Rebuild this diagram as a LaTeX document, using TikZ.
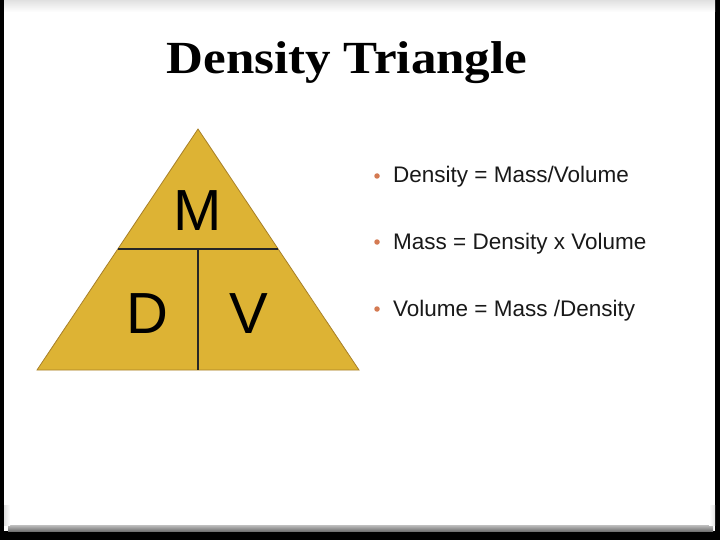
\documentclass[tikz,border=0pt]{standalone}
\usepackage{fontspec}
\setmainfont{Liberation Sans}
\newfontfamily\titlefont{Liberation Serif}
\usetikzlibrary{calc}
\definecolor{gold}{RGB}{221,179,52}
\definecolor{goldedge}{RGB}{168,128,40}
\definecolor{bulletc}{RGB}{212,122,82}
\definecolor{txt}{RGB}{25,25,25}
\tikzset{
  letter/.style={anchor=base, inner sep=0pt, font=\fontsize{58}{60}\selectfont, text=black},
  item/.style={anchor=base west, inner sep=0pt, font=\fontsize{22.5}{26}\selectfont, text=txt},
  dot/.style={circle, fill=bulletc, inner sep=0pt, minimum size=5.5pt},
  divider/.style={draw=black!85, line width=1.6pt}
}
\begin{document}
\begin{tikzpicture}[x=1pt,y=-1pt]
\useasboundingbox (0,0) rectangle (720,540);
% slide frame
\fill[black] (0,0) rectangle (720,540);
\fill[white] (4,0) rectangle (715,531);
\shade[top color=black!12, bottom color=white] (4,0) rectangle (715,12);
\shade[top color=black!25, bottom color=black!55] (8,525) rectangle (713,531);
\shade[left color=black!12, right color=white] (4,505) rectangle (10,525);
\shade[left color=white, right color=black!12] (709,505) rectangle (715,525);
% title
\node[anchor=base, inner sep=0pt, font=\titlefont\bfseries\fontsize{46}{50}\selectfont] (title) at (347,74) {\scalebox{1.11}[1]{Density Triangle}};
% triangle
\coordinate (apex) at (198,129);
\coordinate (bl) at (37,370);
\coordinate (br) at (359,370);
\coordinate (hl) at (117.8,249);
\coordinate (hr) at (278.2,249);
\coordinate (vt) at (198,249);
\coordinate (vb) at (198,370);
\fill[gold, draw=goldedge, line width=0.8pt] (apex) -- (bl) -- (br) -- cycle;
\draw[divider] (hl) -- (hr);
\draw[divider] (vt) -- (vb);
\node[letter] (M) at (198,230) {M};
\node[letter] (D) at (147,333) {D};
\node[letter] (V) at (249,333) {V};
% bullets
\node[dot] (b1) at (377,176) {};
\node[dot] (b2) at (377,242) {};
\node[dot] (b3) at (377,309) {};
\node[item] (t1) at (393,183) {Density = Mass/Volume};
\node[item] (t2) at (393,249.5) {Mass = Density x Volume};
\node[item] (t3) at (393,316.5) {Volume = Mass /Density};
\end{tikzpicture}
\end{document}
